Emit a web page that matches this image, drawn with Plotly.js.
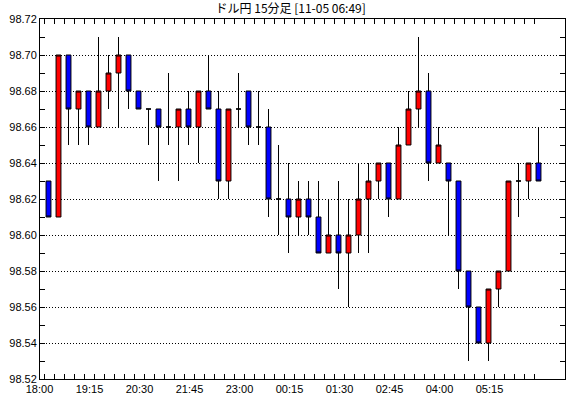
<!DOCTYPE html>
<html><head><meta charset="utf-8">
<script src="https://cdn.plot.ly/plotly-3.0.1.min.js"></script>
<style>html,body{margin:0;padding:0;background:#fff}#c{width:570px;height:398px}</style>
</head><body><div id="c"></div>
<script>
const times = ["18:00","18:15","18:30","18:45","19:00","19:15","19:30","19:45","20:00","20:15",
"20:30","20:45","21:00","21:15","21:30","21:45","22:00","22:15","22:30","22:45",
"23:00","23:15","23:30","23:45","00:00","00:15","00:30","00:45","01:00","01:15",
"01:30","01:45","02:00","02:15","02:30","02:45","03:00","03:15","03:30","03:45",
"04:00","04:15","04:30","04:45","05:00","05:15","05:30","05:45","06:00","06:15"];
const open  = [98.63,98.61,98.70,98.67,98.68,98.66,98.68,98.69,98.70,98.68,
98.67,98.67,98.66,98.66,98.67,98.66,98.68,98.67,98.63,98.67,
98.68,98.66,98.66,98.62,98.62,98.61,98.62,98.61,98.59,98.60,
98.59,98.60,98.62,98.63,98.64,98.62,98.65,98.67,98.68,98.64,
98.64,98.63,98.58,98.56,98.54,98.57,98.58,98.63,98.63,98.64];
const high  = [98.63,98.70,98.70,98.68,98.68,98.71,98.70,98.71,98.70,98.68,
98.67,98.67,98.69,98.67,98.68,98.68,98.70,98.68,98.67,98.69,
98.68,98.68,98.67,98.65,98.64,98.63,98.63,98.63,98.62,98.63,
98.62,98.64,98.64,98.64,98.64,98.66,98.68,98.71,98.69,98.66,
98.64,98.63,98.58,98.56,98.57,98.58,98.63,98.64,98.64,98.66];
const low   = [98.61,98.61,98.65,98.65,98.65,98.66,98.67,98.66,98.67,98.67,
98.65,98.63,98.65,98.63,98.65,98.64,98.67,98.62,98.62,98.66,
98.65,98.65,98.61,98.60,98.59,98.60,98.60,98.59,98.59,98.57,
98.56,98.59,98.59,98.62,98.61,98.62,98.65,98.66,98.63,98.64,
98.60,98.57,98.53,98.54,98.53,98.56,98.58,98.61,98.62,98.63];
const close = [98.61,98.70,98.67,98.68,98.66,98.68,98.69,98.70,98.68,98.67,
98.67,98.66,98.66,98.67,98.66,98.68,98.67,98.63,98.67,98.67,
98.66,98.66,98.62,98.62,98.61,98.62,98.61,98.59,98.60,98.59,
98.60,98.62,98.63,98.64,98.62,98.65,98.67,98.68,98.64,98.65,
98.63,98.58,98.56,98.54,98.57,98.58,98.63,98.63,98.64,98.63];

const idx = times.map((t,i)=>i);
const tickPos = idx.map(i=>i-0.4);
const tickTxt = times.map((t,i)=> i%5===0 ? t : "");

const trace = {
  type:'candlestick', x: idx, open, high, low, close,
  increasing:{fillcolor:'#ff0000', line:{color:'#000000', width:1}},
  decreasing:{fillcolor:'#0000ff', line:{color:'#000000', width:1}},
  whiskerwidth:0, hoverinfo:'skip', showlegend:false
};
const layout = {
  width:570, height:398,
  margin:{l:40, r:5, t:19, b:19},
  paper_bgcolor:'#ffffff', plot_bgcolor:'#ffffff',
  font:{family:'"Liberation Sans", Arial, sans-serif', size:11, color:'#000'},
  title:{text:'ドル円 15分足 [11-05 06:49]', x:0.51, xanchor:'center', y:0.988, yanchor:'top',
         font:{family:'"Noto Sans CJK JP", sans-serif', size:12, color:'#000'}},
  showlegend:false,
  xaxis:{
    type:'linear', range:[-0.85, 51.65], rangeslider:{visible:false},
    tickmode:'array', tickvals:tickPos, ticktext:tickTxt,
    ticks:'inside', ticklen:5, tickcolor:'#000', tickwidth:1,
    showline:true, linecolor:'#000', linewidth:1, mirror:'ticks',
    showgrid:false, zeroline:false, ticklabelshift:-5,
    tickfont:{size:11}
  },
  yaxis:{
    range:[98.52, 98.72], dtick:0.02, tick0:98.52, tickformat:'.2f',
    ticks:'inside', ticklen:5, tickcolor:'#000', tickwidth:1,
    minor:{dtick:0.01, ticks:'inside', ticklen:5, tickcolor:'#000', showgrid:false},
    showline:true, linecolor:'#000', linewidth:1, mirror:'ticks',
    showgrid:true, gridcolor:'#000', griddash:'1px,2px', gridwidth:1, zeroline:false,
    tickfont:{size:11}
  }
};
Plotly.newPlot('c',[trace],layout,{staticPlot:true, displayModeBar:false});
</script></body></html>
